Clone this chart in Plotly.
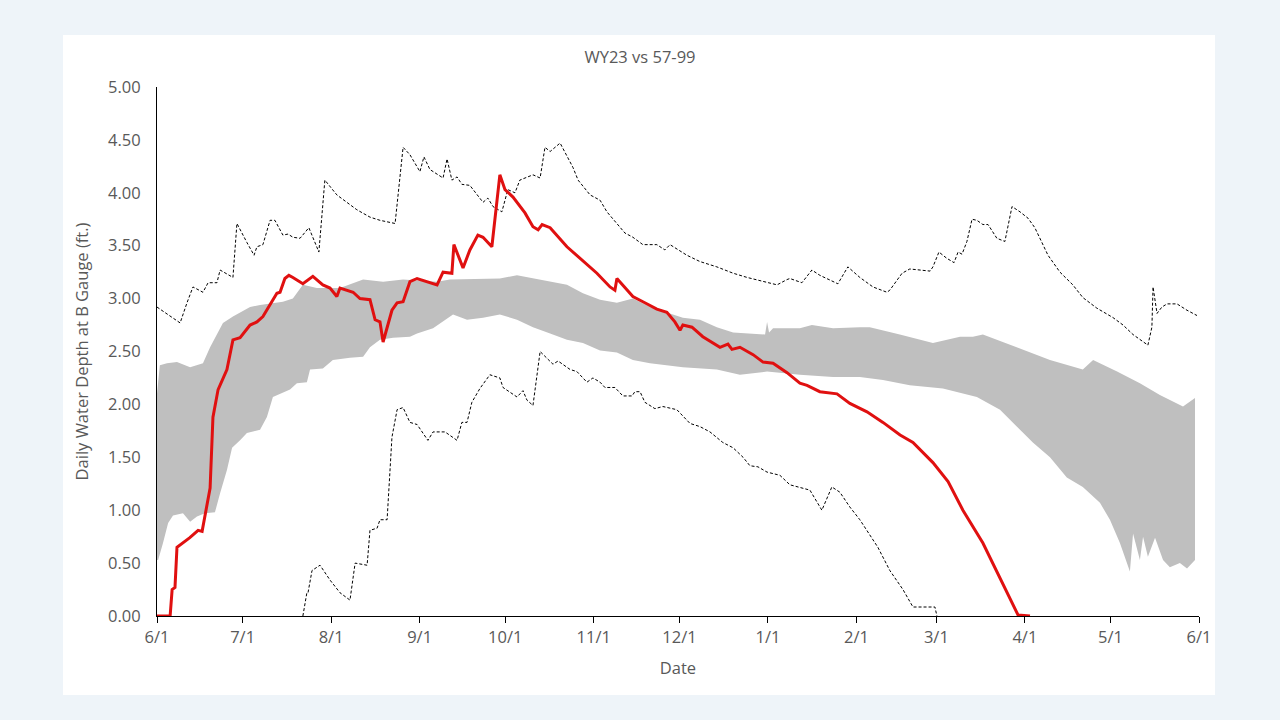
import pandas as pd
import plotly.graph_objects as go

BASE = pd.Timestamp("2022-06-01")

# Day offsets from 6/1 and values (ft.)
wy23_days = [0, 4.6, 5.3, 6.3, 7, 11.5, 14.4, 15.8, 18.6, 19.6, 21.4, 24.5, 26.6, 29.1, 32.6, 35, 37.1,
             39.6, 42, 43.1, 44.8, 46.2, 47.6, 51.1, 54.6, 58.1, 60.6, 63, 64.1, 68.7, 71.1, 74.6, 76.4,
             78.1, 79.2, 82.3, 84.1, 86.2, 88.6, 91.1, 98.1, 100.2, 103.3, 104, 107.2, 109.6, 112.4,
             114.2, 117.3, 120.1, 121.9, 124.7, 128.9, 131.7, 133.5, 134.9, 137.7, 143.6, 148.2, 151.7,
             154.1, 158.7, 160.4, 161.1, 163.9, 166.7, 170.2, 175.1, 178.6, 181.4, 183.2, 184.2, 187.4,
             191.2, 197.2, 200, 201.4, 204.2, 208.8, 212.3, 215.8, 220.7, 225.2, 227.7, 232.2, 238.2,
             242.7, 248.7, 254.3, 260.3, 264.8, 271.8, 277.1, 282.3, 289.3, 292.8, 297.7, 301.6, 305.8]
wy23_vals = [0, 0, 0.25, 0.27, 0.65, 0.74, 0.81, 0.8, 1.21, 1.88, 2.14, 2.33, 2.61, 2.63, 2.75, 2.78, 2.83,
             2.94, 3.05, 3.06, 3.19, 3.22, 3.2, 3.14, 3.21, 3.13, 3.1, 3.02, 3.1, 3.06, 3.0, 2.99, 2.8,
             2.78, 2.59, 2.89, 2.96, 2.97, 3.16, 3.19, 3.13, 3.25, 3.24, 3.51, 3.29, 3.46, 3.6,
             3.58, 3.49, 4.17, 4.03, 3.96, 3.81, 3.68, 3.65, 3.7, 3.67, 3.49, 3.38, 3.29,
             3.24, 3.11, 3.08, 3.19, 3.11, 3.02, 2.97, 2.9, 2.87, 2.78, 2.7, 2.75, 2.73,
             2.64, 2.54, 2.57, 2.52, 2.54, 2.47, 2.4, 2.39, 2.3, 2.2, 2.18, 2.12, 2.1,
             2.01, 1.93, 1.83, 1.71, 1.64, 1.45, 1.27, 1.0, 0.69, 0.5, 0.22, 0.01, 0]

max_days = [0, 8.1, 10.5, 12.6, 16.1, 17.9, 21, 22.1, 26.6, 28, 31.5, 34, 35, 37.1, 39.6, 41.3, 44.1, 45.9,
            47.6, 50.1, 53.2, 56.7, 58.8, 63, 70, 74.6, 78.1, 83.4, 86.2, 88.6, 92.1, 93.5, 95.6, 100.2,
            101.6, 103.3, 105.1, 106.8, 109.6, 111.4, 114.2, 115.9, 117.7, 120.8, 122.9, 125.4, 127.1,
            131.7, 134.2, 135.9, 137.7, 141.2, 145.7, 147.5, 151.7, 155.2, 157.6, 163.9, 166.7, 170.2,
            175.1, 177.9, 179.7, 185.6, 190.2, 196.1, 201.8, 206.7, 212.3, 217.2, 220.7, 221.7, 225.9,
            229.4, 232.2, 238.5, 242, 246.2, 250.8, 255.7, 256.7, 261, 263.7, 270.8, 271.8, 273.9, 276.7,
            279.2, 280.6, 282, 283.7, 285.5, 287.2, 289.3, 291.1, 294.2, 297, 299.5, 302.3, 305.1, 307.5,
            312.1, 316.3, 320.8, 324.3, 329.2, 334.9, 338.4, 341.9, 347.1, 348.5, 348.9, 350.3, 352,
            353.8, 357.3, 360.8, 364.3]
max_vals = [2.92, 2.77, 2.96, 3.11, 3.06, 3.15, 3.15, 3.27, 3.2, 3.71, 3.53, 3.41, 3.49, 3.51, 3.74, 3.74, 3.6, 3.61,
            3.58, 3.57, 3.67, 3.44, 4.12, 3.98, 3.84, 3.77, 3.74, 3.71, 4.43, 4.36, 4.2, 4.34, 4.22, 4.14,
            4.32, 4.12, 4.15, 4.08, 4.07, 4.01, 3.91, 3.95, 3.87, 3.82, 4.03, 4.0, 4.12,
            4.17, 4.14, 4.43, 4.39, 4.47, 4.24, 4.12, 3.98, 3.93, 3.82, 3.62, 3.58, 3.51,
            3.51, 3.46, 3.51, 3.41, 3.35, 3.3, 3.24, 3.2, 3.16, 3.13, 3.18, 3.19, 3.15,
            3.27, 3.22, 3.14, 3.3, 3.2, 3.11, 3.06, 3.08, 3.24, 3.28, 3.26, 3.3, 3.44, 3.38,
            3.34, 3.44, 3.42, 3.54, 3.75, 3.74, 3.7, 3.7, 3.57, 3.54, 3.87, 3.82, 3.76, 3.67,
            3.41, 3.25, 3.13, 3.01, 2.91, 2.82, 2.75, 2.66, 2.56, 2.73, 3.11, 2.86, 2.92,
            2.95, 2.95, 2.89, 2.84]

min_days = [51.1, 52.5, 52.9, 54.3, 57.1, 60.6, 64.1, 67.6, 69.4, 73.6, 74.6, 77.1, 78.1, 80.6, 82.3, 84.1,
            86.2, 88.6, 91.1, 94.9, 96.7, 100.9, 105.1, 106.8, 108.6, 110.3, 113.1, 116.6, 120.1, 121.2,
            126.1, 128.2, 129.6, 131.7, 134.2, 137, 138.7, 140.5, 144.7, 147.1, 150.6, 152.7, 155.2,
            156.9, 160.4, 163.2, 166.4, 167.4, 169.2, 170.9, 174.4, 177.2, 182.1, 186.7, 190.2, 193.7,
            198.2, 201.8, 205.3, 207.7, 210.5, 213.7, 218.2, 221.7, 226.3, 228.7, 232.9, 236.4, 239.2,
            242.7, 246.2, 252.5, 256.7, 261.3, 264.8, 272.5, 273.2]
min_vals = [0, 0.22, 0.22, 0.43, 0.48, 0.34, 0.22, 0.15, 0.5, 0.48, 0.81, 0.83, 0.91, 0.91, 1.69, 1.95,
            1.97, 1.83, 1.81, 1.66, 1.74, 1.74, 1.66, 1.83, 1.83, 2.02, 2.15, 2.28, 2.25, 2.16,
            2.07, 2.13, 2.04, 1.99, 2.5, 2.42, 2.38, 2.41, 2.33, 2.31, 2.21, 2.25, 2.21,
            2.16, 2.16, 2.08, 2.08, 2.12, 2.12, 2.02, 1.96, 1.98, 1.95, 1.82, 1.79, 1.74,
            1.64, 1.59, 1.5, 1.42, 1.41, 1.36, 1.33, 1.24, 1.21, 1.19, 1.0, 1.22, 1.17,
            1.03, 0.91, 0.65, 0.43, 0.25, 0.085, 0.085, 0]

band_hi_days = [0, 1, 3.5, 7, 11.6, 16.1, 18.6, 23.1, 26.6, 32.6, 36.1, 44.1, 47.6, 51.1, 56, 64.1, 72.2,
                79.2, 86.2, 98.1, 102.6, 114.2, 120.1, 126.1, 131.7, 137.7, 143.6, 149.2, 155.2, 161.1,
                166.7, 172.7, 178.6, 184.2, 190.2, 196.1, 201.8, 211.2, 213, 213.7, 214.4, 215.8, 225.2,
                229.4, 236.8, 246.2, 249.7, 260.2, 271.8, 281.3, 285.8, 289.3, 301.2, 312.8, 324.3,
                327.9, 336.3, 344.3, 351.3, 359.4, 363.6]
band_hi_vals = [2.1, 2.37, 2.39, 2.4, 2.35, 2.39, 2.54, 2.77, 2.83, 2.92, 2.94, 2.97, 3.0, 3.13, 3.1, 3.1, 3.18,
                3.16, 3.18, 3.16, 3.18, 3.19, 3.19, 3.22, 3.19, 3.16, 3.13, 3.05, 2.99, 2.96,
                3.0, 2.92, 2.87, 2.82, 2.8, 2.73, 2.68, 2.66, 2.66, 2.78, 2.68, 2.72, 2.72,
                2.75, 2.72, 2.73, 2.73, 2.66, 2.58, 2.64, 2.64, 2.66, 2.54, 2.42, 2.33,
                2.42, 2.31, 2.2, 2.09, 1.98, 2.06]

band_lo_days = [0, 0.4, 2.1, 3.9, 5.6, 9.1, 11.6, 14, 16.8, 20.3, 22.1, 24.5, 26.3, 29.1, 31.5, 36.1, 38.5,
                40.6, 46.6, 49, 52.5, 53.6, 58.1, 61.6, 67.6, 72.2, 74.6, 78.1, 82.7, 88.6, 91.1, 96.7,
                103.7, 108.6, 114.2, 120.1, 126.1, 131.7, 137.7, 143.6, 149.2, 155.2, 161.1, 166.7,
                172.7, 178.6, 184.2, 196.1, 204.2, 213.7, 225.2, 236.8, 246.2, 254.3, 263.7, 275.3,
                287.2, 295.3, 301.2, 306.8, 312.8, 318.7, 324.3, 330.3, 333.8, 337.3, 340.8, 341.9,
                344.3, 345.4, 347.1, 349.6, 352.4, 354.8, 358.3, 360.8, 363.6]
band_lo_vals = [0.53, 0.53, 0.69, 0.88, 0.95, 0.97, 0.89, 0.94, 0.97, 0.98, 1.16, 1.38, 1.59, 1.66, 1.73, 1.76, 1.88,
                2.07, 2.14, 2.2, 2.21, 2.33, 2.34, 2.42, 2.44, 2.45, 2.54, 2.61, 2.63, 2.64, 2.67, 2.72,
                2.85, 2.8, 2.82, 2.85, 2.8, 2.73, 2.67, 2.61, 2.58, 2.51, 2.49, 2.42,
                2.39, 2.37, 2.35, 2.33, 2.28, 2.31, 2.28, 2.26, 2.26, 2.23, 2.18, 2.15,
                2.07, 1.95, 1.79, 1.64, 1.5, 1.31, 1.22, 1.07, 0.91, 0.69, 0.42, 0.78,
                0.53, 0.75, 0.56, 0.74, 0.53, 0.46, 0.5, 0.45, 0.53]

y_ticks = [0, 0.5, 1, 1.5, 2, 2.5, 3, 3.5, 4, 4.5, 5]


def to_dates(days):
    return [BASE + pd.Timedelta(days=float(d)) for d in days]


FONT = "Open Sans, Liberation Sans, sans-serif"
FS = 16.5
GREY_TXT = "#595959"
PAGE_BG = "#eef4f9"

fig = go.Figure()
fig.add_trace(go.Scatter(x=to_dates(band_hi_days), y=band_hi_vals, mode="lines",
                         line=dict(width=0, color="#bfbfbf"), hoverinfo="skip", showlegend=False))
fig.add_trace(go.Scatter(x=to_dates(band_lo_days), y=band_lo_vals, mode="lines", fill="tonexty",
                         fillcolor="#bfbfbf", line=dict(width=0, color="#bfbfbf"), showlegend=False))
fig.add_trace(go.Scatter(x=to_dates(max_days), y=max_vals, mode="lines",
                         line=dict(color="black", width=1, dash="3px,2px"), showlegend=False))
fig.add_trace(go.Scatter(x=to_dates(min_days), y=min_vals, mode="lines",
                         line=dict(color="black", width=1, dash="3px,2px"), showlegend=False))
fig.add_trace(go.Scatter(x=to_dates(wy23_days), y=wy23_vals, mode="lines",
                         line=dict(color="#e01010", width=3), showlegend=False))

fig.add_shape(type="rect", xref="paper", yref="paper", x0=-0.0902, x1=1.0154, y0=-0.1493, y1=1.0983,
              fillcolor="white", line=dict(width=0), layer="below")

fig.update_layout(
    width=1280, height=720,
    paper_bgcolor=PAGE_BG, plot_bgcolor="rgba(0,0,0,0)",
    margin=dict(l=157, r=81, t=87, b=104),
    font=dict(family=FONT, color=GREY_TXT, size=FS),
    title=dict(text="WY23 vs 57-99", x=0.5, xref="container", xanchor="center",
               y=1 - 57 / 720, yref="container", yanchor="middle",
               font=dict(family=FONT, size=FS, color=GREY_TXT)),
    showlegend=False,
)
fig.update_xaxes(
    type="date", range=[BASE, BASE + pd.Timedelta(days=365)],
    dtick="M1", tick0=BASE, tickformat="%-m/%-d",
    showline=True, linecolor="black", linewidth=1,
    ticks="outside", ticklen=6, tickcolor="black", tickwidth=1,
    showgrid=False, zeroline=False,
    title=dict(text="Date", font=dict(family=FONT, size=FS, color=GREY_TXT), standoff=15),
    tickfont=dict(family=FONT, size=FS, color=GREY_TXT),
)
fig.update_yaxes(
    range=[0, 5], tickvals=y_ticks, tickformat=".2f",
    showline=True, linecolor="black", linewidth=1, ticks="",
    showgrid=False, zeroline=False, ticklabelstandoff=12,
    title=dict(text="Daily Water Depth at B Gauge (ft.)", font=dict(family=FONT, size=FS, color=GREY_TXT),
               standoff=15),
    tickfont=dict(family=FONT, size=FS, color=GREY_TXT),
)

fig.write_html(
    "out.html",
    config={"displayModeBar": False},
    post_script="document.body.style.margin='0';document.body.style.background='" + PAGE_BG + "';",
)
